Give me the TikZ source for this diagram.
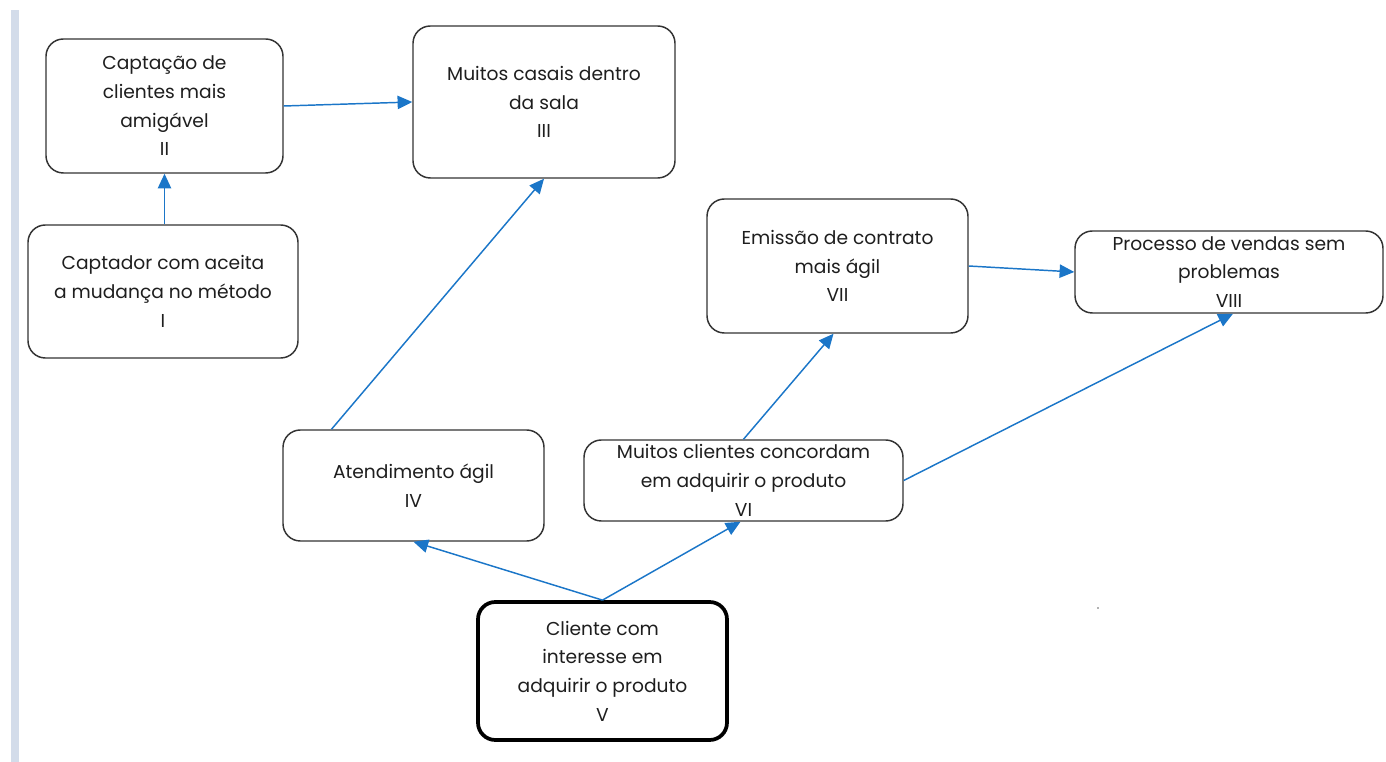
\documentclass[tikz,border=0pt]{standalone}
\usepackage{fontspec}
\setmainfont{Poppins}
\usetikzlibrary{arrows.meta,calc}
\definecolor{flow}{HTML}{1B76C8}
\definecolor{edge}{HTML}{333333}
\definecolor{txt}{HTML}{1E1E1E}
\definecolor{band}{HTML}{D3DCEA}
\tikzset{
  stepbox/.style={draw=edge, line width=1.1pt, rounded corners=13pt, fill=white,
    align=center, text=txt, inner sep=0pt,
    font=\fontsize{14pt}{21.5pt}\selectfont},
  mainbox/.style={stepbox, draw=black, line width=2.8pt},
  link/.style={draw=flow, line width=1.1pt, -{Triangle[length=11pt,width=10pt]}}
}
\begin{document}
\begin{tikzpicture}[x=0.75pt,y=-0.75pt]
  \useasboundingbox (0,0) rectangle (1386,762);
  \fill[band] (11,10) rectangle (19,762);

  % boxes (centre, width, height in px)
  \node[stepbox, minimum width=177.75pt, minimum height=100.5pt] (n2) at (164.5,106)
    {Captação de\\clientes mais\\amigável\\II};
  \node[stepbox, minimum width=196.5pt, minimum height=114pt] (n3) at (544,102)
    {Muitos casais dentro\\da sala\\III};
  \node[stepbox, minimum width=202.5pt, minimum height=99.75pt] (n1) at (163,291.5)
    {Captador com aceita\\a mudança no método\\I};
  \node[stepbox, minimum width=195.75pt, minimum height=83.25pt] (n4) at (413.5,485.5)
    {Atendimento ágil\\IV};
  \node[stepbox, minimum width=239.25pt, minimum height=60.75pt] (n6) at (743.5,480.5)
    {Muitos clientes concordam\\em adquirir o produto\\VI};
  \node[stepbox, minimum width=195.75pt, minimum height=100.5pt] (n7) at (837.5,266)
    {Emissão de contrato\\mais ágil\\VII};
  \node[stepbox, minimum width=231pt, minimum height=61.5pt] (n8) at (1229,272)
    {Processo de vendas sem\\problemas\\VIII};
  \node[mainbox, minimum width=186.75pt, minimum height=103.5pt] (n5) at (602.5,671)
    {Cliente com\\interesse em\\adquirir o produto\\V};

  % connectors
  \draw[link] (n2.south |- n1.north) -- (n2.south);
  \draw[link] (n2.east) -- (n3.west);
  \draw[link] ($(n4.north)+(-82,0)$) -- (n3.south);
  \draw[link] (n5.north) -- (n4.south);
  \draw[link] (n5.north) -- ($(n6.south)+(-3,0)$);
  \draw[link] (n6.north) -- ($(n7.south)+(-4,0)$);
  \draw[link] (n6.east) -- ($(n8.south)+(4,0)$);
  \draw[link] (n7.east) -- (n8.west);

  % stray mark
  \fill[gray!60] (1097,607) rectangle (1099,609);
\end{tikzpicture}
\end{document}
